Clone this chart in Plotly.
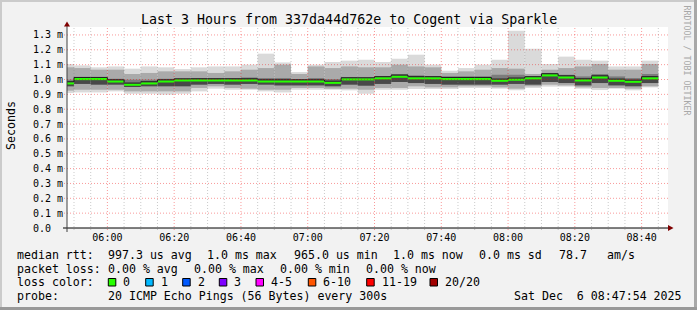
import plotly.graph_objects as go
import pandas as pd

# ---------------- data ----------------
bar_start = pd.date_range('2025-12-06 05:45:00', periods=36, freq='5min')
step_ms = 300000

rtt_max = [1.104, 1.095, 1.082, 1.088, 1.073, 1.088, 1.082, 1.070, 1.082, 1.088, 1.088, 1.100,
           1.174, 1.115, 1.050, 1.100, 1.118, 1.127, 1.133, 1.118, 1.140, 1.167, 1.100, 1.059,
           1.077, 1.100, 1.133, 1.329, 1.207, 1.104, 1.154, 1.133, 1.127, 1.088, 1.088, 1.127]
mid_hi = [1.082, 1.077, 1.066, 1.066, 1.037, 1.044, 1.055, 1.055, 1.055, 1.044, 1.055, 1.066,
          1.077, 1.100, 1.037, 1.088, 1.077, 1.088, 1.082, 1.082, 1.100, 1.088, 1.082, 1.044,
          1.055, 1.066, 1.077, 1.073, 1.037, 1.066, 1.077, 1.088, 1.104, 1.066, 1.066, 1.104]
core_hi = [0.999, 1.014, 1.010, 1.005, 0.999, 0.999, 1.005, 0.999, 1.010, 1.010, 1.010, 1.014,
           1.010, 1.010, 1.003, 1.010, 1.003, 1.014, 1.010, 1.021, 1.037, 1.028, 1.021, 1.021,
           1.021, 1.021, 1.032, 1.032, 1.021, 1.044, 1.032, 1.021, 1.037, 1.021, 1.010, 1.037]
median = [0.974, 1.003, 1.003, 0.987, 0.965, 0.974, 0.987, 0.994, 0.994, 0.994, 0.994, 0.994,
          0.987, 0.987, 0.987, 0.987, 0.978, 1.001, 1.001, 1.008, 1.019, 1.008, 1.008, 1.003,
          1.003, 1.003, 0.992, 0.999, 1.008, 1.028, 1.014, 0.994, 1.014, 0.992, 0.985, 1.008]
core_lo = [0.954, 0.970, 0.965, 0.965, 0.954, 0.954, 0.954, 0.954, 0.965, 0.970, 0.965, 0.970,
           0.965, 0.960, 0.960, 0.960, 0.954, 0.965, 0.958, 0.970, 0.983, 0.976, 0.970, 0.965,
           0.965, 0.965, 0.965, 0.970, 0.965, 0.983, 0.976, 0.960, 0.976, 0.960, 0.954, 0.976]
mid_lo = [0.925, 0.931, 0.931, 0.931, 0.920, 0.920, 0.920, 0.920, 0.943, 0.954, 0.943, 0.938,
          0.931, 0.931, 0.943, 0.943, 0.938, 0.938, 0.931, 0.943, 0.943, 0.954, 0.947, 0.947,
          0.954, 0.954, 0.947, 0.938, 0.954, 0.965, 0.960, 0.947, 0.943, 0.943, 0.938, 0.954]
rtt_min = [0.909, 0.913, 0.913, 0.920, 0.904, 0.904, 0.898, 0.904, 0.920, 0.938, 0.931, 0.931,
           0.920, 0.913, 0.931, 0.931, 0.931, 0.927, 0.904, 0.931, 0.931, 0.936, 0.936, 0.936,
           0.943, 0.943, 0.938, 0.927, 0.943, 0.952, 0.952, 0.938, 0.929, 0.938, 0.927, 0.947]

y_tickvals = [0.0, 0.1, 0.2, 0.3, 0.4, 0.5, 0.6, 0.7, 0.8, 0.9, 1.0, 1.1, 1.2, 1.3]
y_ticktext = ['0.0\u00a0\u00a0', '0.1 m', '0.2 m', '0.3 m', '0.4 m', '0.5 m', '0.6 m',
              '0.7 m', '0.8 m', '0.9 m', '1.0 m', '1.1 m', '1.2 m', '1.3 m']

title_text = 'Last 3 Hours from 337da44d762e to Cogent via Sparkle'
loss_labels = ['0', '1', '2', '3', '4-5', '6-10', '11-19', '20/20']
loss_colors = ['#26ff00', '#00b8ff', '#0059ff', '#7e00ff', '#ff00ff', '#ff5500', '#ff0000', '#a10000']

# ---------------- geometry ----------------
W, H = 697, 310
L, R, T, B = 67, 668, 27, 228
Y_TOP = 1.3535
PX_PER_MS = (B - T) / Y_TOP
MONO = 'DejaVu Sans Mono'


def px(x):
    return (x - L) / (R - L)


def py(y):
    return (B - y) / (B - T)


fig = go.Figure()

# smoke layers (outer light -> inner dark; dark part just below the median)
for lo, hi, col in [(rtt_min, rtt_max, '#dadada'),
                    (mid_lo, mid_hi, '#aaaaaa'),
                    (median, core_hi, '#7c7c7c'),
                    (core_lo, median, '#484848')]:
    fig.add_trace(go.Bar(
        x=bar_start, y=[h - l for l, h in zip(lo, hi)], base=lo,
        width=step_ms, offset=0,
        marker=dict(color=col, line=dict(width=0)),
        hoverinfo='skip', showlegend=False))

# green median band (2 px) with a thin dark step line on top of it
bar_end = bar_start + pd.Timedelta(minutes=5)
gx, gy = [], []
for s, e, m in zip(bar_start, bar_end, median):
    gx += [s, e, None]
    gy += [m, m, None]
fig.add_trace(go.Scatter(x=gx, y=gy, mode='lines',
                         line=dict(color=loss_colors[0], width=2.2),
                         hoverinfo='skip', showlegend=False))
dark_off = 1.6 / PX_PER_MS
fig.add_trace(go.Scatter(
    x=list(bar_start) + [bar_end[-1]], y=[m + dark_off for m in median + [median[-1]]],
    mode='lines', line=dict(color='#1a1a1a', width=1, shape='hv'),
    hoverinfo='skip', showlegend=False))

shapes = []
# grid above traces
minor_times = pd.date_range('2025-12-06 05:50:00', '2025-12-06 08:45:00', freq='5min')
for t in minor_times:
    major = (t.minute % 20 == 0)
    shapes.append(dict(type='line', xref='x', yref='paper', x0=t, x1=t,
                       y0=py(230), y1=1, layer='above',
                       line=dict(color='rgba(240,0,0,0.40)' if major else 'rgba(128,128,128,0.42)',
                                 width=1, dash='1px,2px')))
for v in y_tickvals[1:]:
    shapes.append(dict(type='line', xref='paper', yref='y', x0=px(64), x1=px(670),
                       y0=v, y1=v, layer='above',
                       line=dict(color='rgba(240,0,0,0.40)', width=1, dash='1px,2px')))

# axes
shapes.append(dict(type='line', xref='paper', yref='paper', x0=px(63), x1=px(668),
                   y0=0, y1=0, layer='above', line=dict(color='#000000', width=1)))
shapes.append(dict(type='line', xref='paper', yref='paper', x0=0, x1=0,
                   y0=py(232), y1=py(26), layer='above', line=dict(color='#404040', width=1)))
# arrows
shapes.append(dict(type='path', xref='paper', yref='paper', layer='above',
                   path=f'M {px(64)} {py(26.5)} L {px(70)} {py(26.5)} L {px(67)} {py(21.5)} Z',
                   fillcolor='#7f0000', line=dict(width=0)))
shapes.append(dict(type='path', xref='paper', yref='paper', layer='above',
                   path=f'M {px(668)} {py(225)} L {px(668)} {py(231)} L {px(673.5)} {py(228)} Z',
                   fillcolor='#7f0000', line=dict(width=0)))

# image frame
shapes.append(dict(type='rect', xref='paper', yref='paper', x0=px(0), x1=px(2), y0=py(310), y1=py(0),
                   fillcolor='#cbcbcb', line=dict(width=0)))
shapes.append(dict(type='rect', xref='paper', yref='paper', x0=px(0), x1=px(697), y0=py(2), y1=py(0),
                   fillcolor='#cbcbcb', line=dict(width=0)))
shapes.append(dict(type='rect', xref='paper', yref='paper', x0=px(694), x1=px(697), y0=py(310), y1=py(0),
                   fillcolor='#a8a8a8', line=dict(width=0)))
shapes.append(dict(type='rect', xref='paper', yref='paper', x0=px(0), x1=px(697), y0=py(310), y1=py(307),
                   fillcolor='#999999', line=dict(width=0)))

# legend colour boxes
box_x = [108.3, 145.7, 182.7, 219.3, 256.0, 308.3, 366.7, 430.0]
for bx, col in zip(box_x, loss_colors):
    shapes.append(dict(type='rect', xref='paper', yref='paper', x0=px(bx), x1=px(bx + 7.5),
                       y0=py(286), y1=py(278.5), fillcolor=col,
                       line=dict(color='#000000', width=1)))

annotations = []


def txt(x, y, s, size=11.6, anchor='left', color='#000000', angle=0):
    annotations.append(dict(x=px(x), y=py(y), xref='paper', yref='paper', text=s,
                            showarrow=False, xanchor=anchor, yanchor='middle',
                            textangle=angle, borderpad=0,
                            font=dict(family=MONO, size=size, color=color)))


def nb(s):
    return s.replace(' ', '\u00a0')


txt(348.5, 19.5, nb(title_text), size=13.3, anchor='center')
txt(11, 126, 'Seconds', anchor='center', angle=-90)
txt(686.5, 60, nb('RRDTOOL / TOBI OETIKER'), size=8.3, anchor='center', color='#a8a8a8', angle=90)

line1 = [(15.5, 'median rtt:'), (106.5, '997.3 us avg'), (205.5, '1.0 ms max'),
         (292.5, '965.0 us min'), (392, '1.0 ms now'), (478.5, '0.0 ms sd'),
         (557.5, '78.7'), (606, 'am/s')]
line2 = [(15.5, 'packet loss:'), (106.5, '0.00 % avg'), (192.5, '0.00 % max'),
         (278.5, '0.00 % min'), (364.5, '0.00 % now')]
line3 = [(15.5, 'loss color:')] + [(bx + 14, lab) for bx, lab in zip(box_x, loss_labels)]
line4 = [(15.5, 'probe:'), (106.5, '20 ICMP Echo Pings (56 Bytes) every 300s'),
         (512.5, 'Sat Dec  6 08:47:54 2025')]
for yc, items in [(255, line1), (268.5, line2), (282, line3), (295.5, line4)]:
    for x, s in items:
        txt(x, yc, nb(s))

fig.update_layout(
    width=W, height=H, autosize=False,
    margin=dict(l=L, r=W - R, t=T, b=H - B, pad=0),
    paper_bgcolor='#f2f2f2', plot_bgcolor='#ffffff',
    barmode='overlay', showlegend=False,
    shapes=shapes, annotations=annotations,
    xaxis=dict(type='date', range=['2025-12-06 05:47:54', '2025-12-06 08:47:54'],
               showgrid=False, zeroline=False, showline=False, ticks='',
               tick0='2025-12-06 06:00:00', dtick=1200000, tickformat='%H:%M',
               ticklabelstandoff=2,
               tickfont=dict(family=MONO, size=10, color='#000000'), fixedrange=True),
    yaxis=dict(range=[0, Y_TOP], showgrid=False, zeroline=False, showline=False, ticks='',
               tickmode='array', tickvals=y_tickvals, ticktext=y_ticktext,
               ticklabelstandoff=3,
               tickfont=dict(family=MONO, size=10, color='#000000'), fixedrange=True),
)

fig.write_html('out.html')
